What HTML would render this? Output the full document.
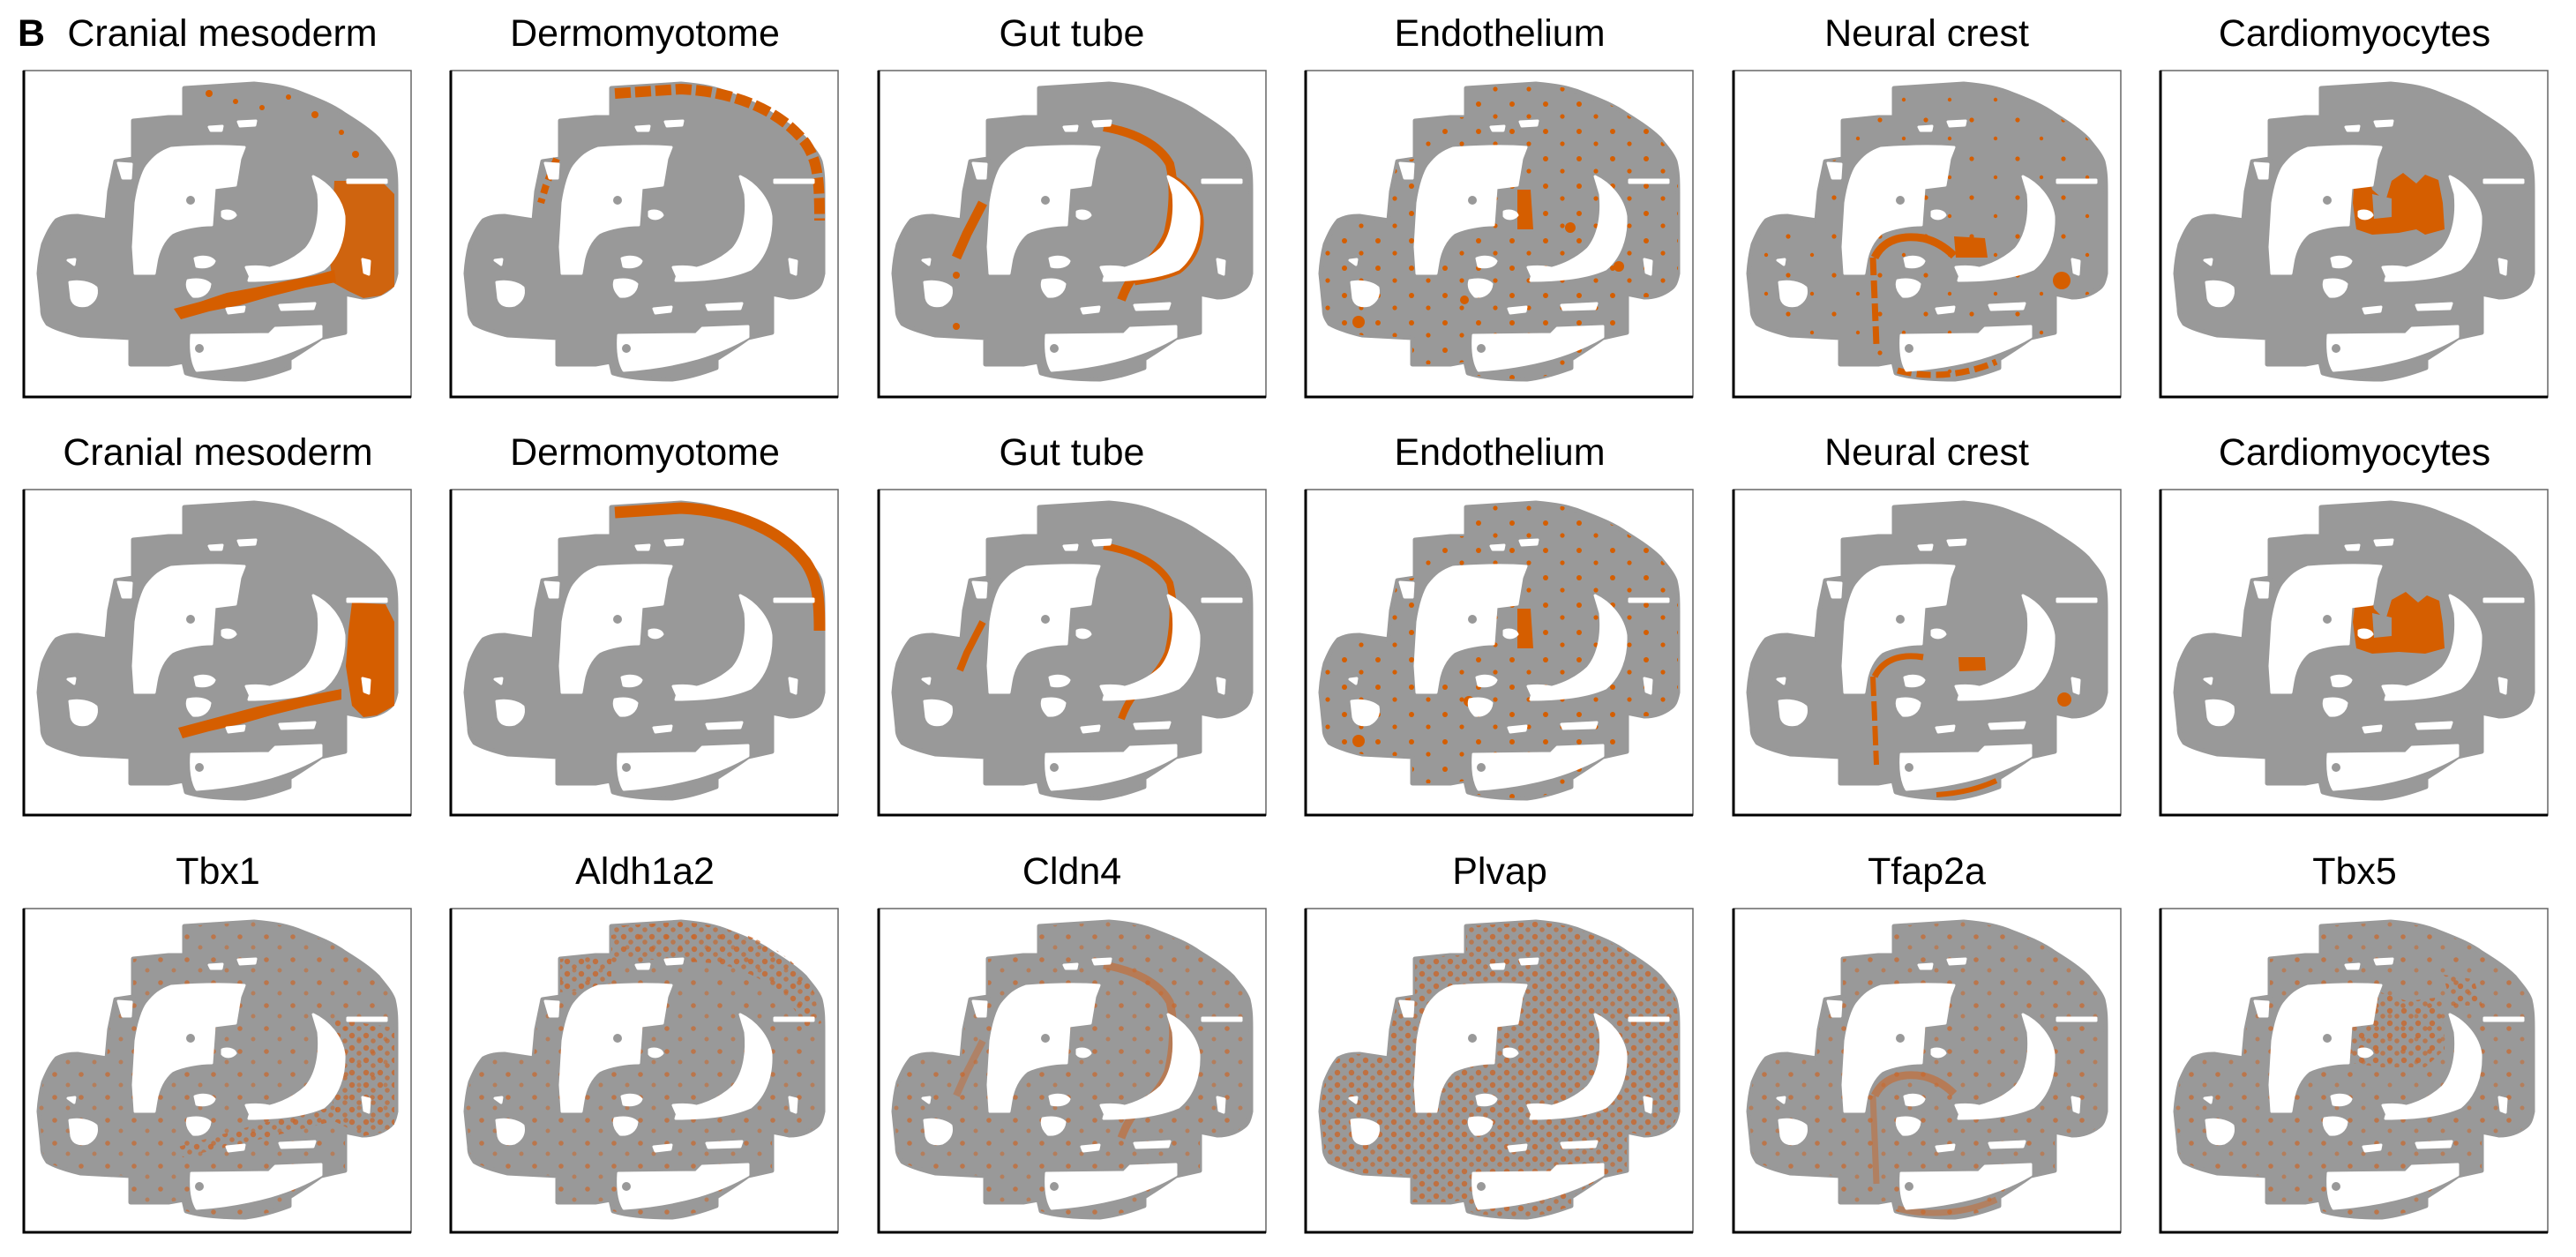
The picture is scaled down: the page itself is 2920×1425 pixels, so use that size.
<!DOCTYPE html>
<html><head><meta charset="utf-8"><style>
html,body{margin:0;padding:0;background:#fff;}
svg{display:block;}
text{font-family:"Liberation Sans",Arial,sans-serif;}
</style></head><body>
<svg width="2920" height="1425" viewBox="0 0 2920 1425" xmlns="http://www.w3.org/2000/svg" xmlns:xlink="http://www.w3.org/1999/xlink">
<defs>
<pattern id="sp1" width="38" height="31" patternUnits="userSpaceOnUse">
<circle cx="6" cy="7" r="3" fill="#d55e00"/><circle cx="25" cy="21" r="2.6" fill="#d55e00"/>
</pattern>
<pattern id="sp2" width="52" height="44" patternUnits="userSpaceOnUse">
<circle cx="10" cy="12" r="2.6" fill="#d55e00"/><circle cx="37" cy="33" r="2.2" fill="#d55e00"/>
</pattern>
<pattern id="sp3" width="16" height="14" patternUnits="userSpaceOnUse">
<circle cx="4" cy="4" r="3.2" fill="#c9672a" opacity="0.8"/><circle cx="12" cy="10" r="2.8" fill="#c9672a" opacity="0.65"/>
</pattern>
<pattern id="sp4" width="30" height="26" patternUnits="userSpaceOnUse">
<circle cx="5" cy="6" r="2.8" fill="#c9672a" opacity="0.7"/><circle cx="20" cy="18" r="2.5" fill="#c9672a" opacity="0.55"/>
</pattern>
<path id="bodyp" d="M182,20 L261,15 C285,17 300,20 317,27 C335,34 350,40 364,50 C380,60 392,68 401,77 C410,88 416,95 419,103 C422,115 422,125 422,140 L422,230 C420,240 418,244 414,247 C405,254 395,257 384,257 L364,253 L364,297 L337,303 C325,312 312,320 301,327 L301,337 C285,343 268,348 251,350 C225,350 200,348 184,343 L181,330 L164,333 L121,333 L121,303 L64,300 C48,296 35,292 27,287 C22,280 21,276 21,270 L17,230 C18,215 20,205 22,197 C27,185 31,177 37,170 C45,166 52,165 61,165 L94,170 L97,137 L104,103 L124,100 L124,57 L164,53 L182,53 Z"/>
<g id="body"><use xlink:href="#bodyp" fill="#999" stroke="#999" stroke-width="5" stroke-linejoin="round"/></g>
<g id="holes" fill="#fff" stroke="#fff" stroke-linejoin="round" stroke-width="3">
<path d="M167,88 C195,86 225,85 250,87 L245,100 L240,130 L216,133 L213,175 C200,175 180,178 168,184 C158,192 152,205 150,218 L148,230 L126,230 L124,200 L127,150 C130,130 135,115 140,108 C148,98 155,92 167,88 Z"/>
<path d="M328,120 C345,128 360,145 363,165 C364,190 356,212 340,225 C320,234 290,238 255,238 L258,228 C285,225 305,216 320,202 C334,185 336,160 334,140 Z"/>
<path d="M190,300 L278,299 L285,292 L337,290 L337,302 C320,312 300,320 280,326 C255,333 225,338 196,340 C190,330 189,315 190,300 Z"/>
<path d="M52,240 C62,238 75,240 82,246 C84,255 80,262 72,266 C63,268 56,266 54,258 Z"/>
<path d="M107,105 L122,106 L121,122 L112,122 Z"/>
<path d="M194,213 C202,210 212,211 216,216 C214,222 204,224 196,222 Z"/>
<path d="M186,238 C196,236 206,237 211,242 C210,252 202,257 192,256 C186,250 184,244 186,238 Z"/>
<path d="M252,223 C262,222 276,222 284,226 C280,232 268,234 256,232 Z"/>
<path d="M230,270 L250,268 L249,273 L232,275 Z"/>
<path d="M290,266 L330,264 L328,270 L292,271 Z"/>
<path d="M225,160 C230,158 238,159 240,164 C236,169 228,169 225,165 Z"/>
<path d="M243,58 L263,57 L262,62 L245,63 Z"/>
<path d="M210,64 L225,63 L224,68 L212,68 Z"/>
<path d="M367,124 L411,124 L411,127 L367,127 Z"/>
<path d="M384,214 L392,216 L391,231 L386,229 Z"/>
<path d="M50,215 L58,214 L57,220 Z"/>
</g>
<g id="dots" fill="#999"><circle cx="189" cy="147" r="5"/><circle cx="199" cy="315" r="5"/></g>

<!-- row1 overlays -->
<g id="r1c1" fill="#d55e00">
<path d="M352,125 L405,125 L420,140 L420,245 L405,255 L385,258 L368,250 L350,240 L345,200 L350,160 Z" opacity="0.9"/>
<path d="M170,270 L200,262 L230,252 L262,246 L300,238 L330,232 L352,226 L354,240 L320,246 L280,256 L245,266 L210,273 L178,282 Z"/>
<circle cx="210" cy="26" r="4"/><circle cx="240" cy="35" r="3"/><circle cx="300" cy="30" r="3"/><circle cx="330" cy="50" r="4"/><circle cx="360" cy="70" r="3"/><circle cx="183" cy="90" r="4"/><circle cx="270" cy="42" r="3"/><circle cx="376" cy="95" r="4"/>
</g>
<g id="r1c2" fill="none" stroke="#d55e00">
<path d="M186,26 L261,21 C325,24 375,47 402,82 C416,102 418,125 418,170" stroke-width="12" stroke-dasharray="18 5"/>
<path d="M120,100 L108,130 L102,150" stroke-width="8" stroke-dasharray="10 6"/>
</g>
<g id="r1c3" fill="none" stroke="#d55e00">
<path d="M255,64 C290,70 318,84 330,106 C336,130 334,160 328,185 C320,205 305,220 290,232 C282,242 278,252 275,260" stroke-width="10"/>
<path d="M330,120 C350,130 364,150 365,170 C366,195 356,215 340,227 C322,235 300,238 290,240" stroke-width="7"/>
<path d="M118,150 L100,185 L88,212" stroke-width="11"/>
<circle cx="88" cy="232" r="4" fill="#d55e00" stroke="none"/><circle cx="88" cy="290" r="4" fill="#d55e00" stroke="none"/>
</g>
<g id="r1c4">
<use xlink:href="#bodyp" fill="url(#sp1)"/>
<path d="M240,135 L255,135 L258,180 L240,180 Z" fill="#d55e00"/>
<circle cx="300" cy="178" r="6" fill="#d55e00"/><circle cx="355" cy="222" r="6" fill="#d55e00"/><circle cx="60" cy="285" r="7" fill="#d55e00"/><circle cx="180" cy="260" r="5" fill="#d55e00"/>
</g>
<g id="r1c5" fill="#d55e00">
<use xlink:href="#bodyp" fill="url(#sp2)"/>
<path d="M160,212 C170,192 190,186 215,190 C232,194 244,204 250,210" fill="none" stroke="#d55e00" stroke-width="9"/>
<path d="M250,188 L285,190 L288,212 L252,212 Z"/>
<path d="M158,212 L160,260 L162,312" fill="none" stroke="#d55e00" stroke-width="7" stroke-dasharray="20 6"/>
<path d="M186,340 C220,349 262,346 298,330" fill="none" stroke="#d55e00" stroke-width="7" stroke-dasharray="16 6"/>
<circle cx="372" cy="238" r="10"/>
</g>
<g id="r1c6" fill="#d55e00">
<path d="M220,120 L235,116 L240,135 L255,148 L262,125 L275,116 L290,128 L300,118 L315,124 L320,150 L322,180 L300,186 L290,180 L270,184 L240,186 L222,180 L218,150 Z"/>
<path d="M240,140 L262,145 L262,166 L242,168 Z" fill="#999"/>
</g>
<!-- row2 overlays -->
<g id="r2c1" fill="#d55e00">
<path d="M372,128 L410,130 L420,150 L420,245 L400,256 L385,258 L372,245 L365,200 L368,160 Z"/>
<path d="M175,270 L205,262 L235,254 L265,246 L300,238 L330,232 L360,226 L360,238 L320,246 L280,256 L245,266 L210,274 L180,282 Z"/>
</g>
<g id="r2c2" fill="none" stroke="#d55e00">
<path d="M186,26 L261,21 C325,24 375,47 402,82 C416,102 418,125 418,160" stroke-width="13"/>
</g>
<g id="r2c3" fill="none" stroke="#d55e00">
<path d="M255,64 C290,70 318,84 330,106 C336,130 334,160 328,185 C320,205 305,220 290,232 C282,242 278,252 275,260" stroke-width="8"/>
<path d="M118,150 L100,185 L92,205" stroke-width="8"/>
</g>
<g id="r2c4">
<use xlink:href="#bodyp" fill="url(#sp1)"/>
<path d="M240,135 L255,135 L258,180 L240,180 Z" fill="#d55e00"/>
<circle cx="60" cy="285" r="7" fill="#d55e00"/><circle cx="185" cy="240" r="6" fill="#d55e00"/>
</g>
<g id="r2c5" fill="#d55e00">
<path d="M160,212 C170,192 190,186 215,190" fill="none" stroke="#d55e00" stroke-width="7"/>
<path d="M255,190 L285,190 L286,205 L256,206 Z"/>
<path d="M158,212 L160,260 L162,312" fill="none" stroke="#d55e00" stroke-width="6" stroke-dasharray="22 6"/>
<path d="M230,346 C260,344 280,338 298,330" fill="none" stroke="#d55e00" stroke-width="6"/>
<circle cx="375" cy="238" r="8"/>
</g>
<g id="r2c6" fill="#d55e00">
<path d="M222,118 L238,116 L242,135 L255,148 L262,125 L278,116 L292,128 L302,120 L316,126 L320,152 L322,180 L300,186 L270,184 L240,186 L222,180 L218,150 Z"/>
<path d="M240,140 L262,145 L262,166 L242,168 Z" fill="#999"/>
</g>
<!-- row3 overlays -->
<g id="r3c1">
<use xlink:href="#bodyp" fill="url(#sp4)"/>
<path d="M350,125 L420,135 L420,250 L385,258 L350,240 Z" fill="url(#sp3)"/>
<path d="M175,270 L260,246 L355,224 L355,240 L250,266 L180,282 Z" fill="url(#sp3)"/>
</g>
<g id="r3c2">
<use xlink:href="#bodyp" fill="url(#sp4)"/>
<path d="M182,20 L261,15 C330,20 385,45 410,90 L420,130 L400,135 C388,100 350,72 300,62 L182,55 Z" fill="url(#sp3)"/>
<path d="M124,57 L182,55 L182,88 L124,95 Z" fill="url(#sp3)"/>
</g>
<g id="r3c3">
<use xlink:href="#bodyp" fill="url(#sp4)"/>
<path d="M255,64 C290,70 318,84 330,106 C336,130 334,160 328,185 C320,205 305,220 290,232 C282,242 278,252 275,260" fill="none" stroke="#c9672a" stroke-width="9" opacity="0.6"/>
<path d="M118,150 L100,185 L88,212" fill="none" stroke="#c9672a" stroke-width="8" opacity="0.45"/>
</g>
<g id="r3c4">
<use xlink:href="#bodyp" fill="url(#sp3)"/>
</g>
<g id="r3c5">
<use xlink:href="#bodyp" fill="url(#sp4)"/>
<path d="M160,212 C170,192 190,186 215,190 C232,194 244,204 250,210" fill="none" stroke="#c9672a" stroke-width="9" opacity="0.6"/>
<path d="M158,212 L160,260 L162,312" fill="none" stroke="#c9672a" stroke-width="7" opacity="0.5"/>
<path d="M186,340 C220,349 262,346 298,330" fill="none" stroke="#c9672a" stroke-width="7" opacity="0.5"/>
</g>
<g id="r3c6">
<use xlink:href="#bodyp" fill="url(#sp4)"/>
<path d="M215,100 L250,95 L280,105 L320,100 L322,160 L300,180 L250,180 L215,175 Z" fill="url(#sp3)"/>
<path d="M320,75 L355,80 L365,110 L330,110 Z" fill="url(#sp3)"/>
</g>
</defs>

<g font-size="43" text-anchor="middle" fill="#000">
<text x="20" y="52" text-anchor="start" font-weight="bold">B</text>
<text x="252" y="52">Cranial mesoderm</text>
<text x="731" y="52">Dermomyotome</text>
<text x="1215" y="52">Gut tube</text>
<text x="1700" y="52">Endothelium</text>
<text x="2184" y="52">Neural crest</text>
<text x="2669" y="52">Cardiomyocytes</text>
<text x="247" y="527">Cranial mesoderm</text>
<text x="731" y="527">Dermomyotome</text>
<text x="1215" y="527">Gut tube</text>
<text x="1700" y="527">Endothelium</text>
<text x="2184" y="527">Neural crest</text>
<text x="2669" y="527">Cardiomyocytes</text>
<text x="247" y="1002">Tbx1</text>
<text x="731" y="1002">Aldh1a2</text>
<text x="1215" y="1002">Cldn4</text>
<text x="1700" y="1002">Plvap</text>
<text x="2184" y="1002">Tfap2a</text>
<text x="2669" y="1002">Tbx5</text>
</g>

<g transform="translate(27,80)"><use xlink:href="#body"/><use xlink:href="#r1c1"/><use xlink:href="#holes"/><use xlink:href="#dots"/></g>
<g transform="translate(511,80)"><use xlink:href="#body"/><use xlink:href="#r1c2"/><use xlink:href="#holes"/><use xlink:href="#dots"/></g>
<g transform="translate(996,80)"><use xlink:href="#body"/><use xlink:href="#r1c3"/><use xlink:href="#holes"/><use xlink:href="#dots"/></g>
<g transform="translate(1480,80)"><use xlink:href="#body"/><use xlink:href="#r1c4"/><use xlink:href="#holes"/><use xlink:href="#dots"/></g>
<g transform="translate(1965,80)"><use xlink:href="#body"/><use xlink:href="#r1c5"/><use xlink:href="#holes"/><use xlink:href="#dots"/></g>
<g transform="translate(2449,80)"><use xlink:href="#body"/><use xlink:href="#r1c6"/><use xlink:href="#holes"/><use xlink:href="#dots"/></g>
<g transform="translate(27,555)"><use xlink:href="#body"/><use xlink:href="#r2c1"/><use xlink:href="#holes"/><use xlink:href="#dots"/></g>
<g transform="translate(511,555)"><use xlink:href="#body"/><use xlink:href="#r2c2"/><use xlink:href="#holes"/><use xlink:href="#dots"/></g>
<g transform="translate(996,555)"><use xlink:href="#body"/><use xlink:href="#r2c3"/><use xlink:href="#holes"/><use xlink:href="#dots"/></g>
<g transform="translate(1480,555)"><use xlink:href="#body"/><use xlink:href="#r2c4"/><use xlink:href="#holes"/><use xlink:href="#dots"/></g>
<g transform="translate(1965,555)"><use xlink:href="#body"/><use xlink:href="#r2c5"/><use xlink:href="#holes"/><use xlink:href="#dots"/></g>
<g transform="translate(2449,555)"><use xlink:href="#body"/><use xlink:href="#r2c6"/><use xlink:href="#holes"/><use xlink:href="#dots"/></g>
<g transform="translate(27,1030)"><use xlink:href="#body"/><use xlink:href="#r3c1"/><use xlink:href="#holes"/><use xlink:href="#dots"/></g>
<g transform="translate(511,1030)"><use xlink:href="#body"/><use xlink:href="#r3c2"/><use xlink:href="#holes"/><use xlink:href="#dots"/></g>
<g transform="translate(996,1030)"><use xlink:href="#body"/><use xlink:href="#r3c3"/><use xlink:href="#holes"/><use xlink:href="#dots"/></g>
<g transform="translate(1480,1030)"><use xlink:href="#body"/><use xlink:href="#r3c4"/><use xlink:href="#holes"/><use xlink:href="#dots"/></g>
<g transform="translate(1965,1030)"><use xlink:href="#body"/><use xlink:href="#r3c5"/><use xlink:href="#holes"/><use xlink:href="#dots"/></g>
<g transform="translate(2449,1030)"><use xlink:href="#body"/><use xlink:href="#r3c6"/><use xlink:href="#holes"/><use xlink:href="#dots"/></g>

<g fill="none">
<g stroke="#666" stroke-width="1.5">
<rect x="27" y="80" width="439" height="370"/><rect x="511" y="80" width="439" height="370"/><rect x="996" y="80" width="439" height="370"/><rect x="1480" y="80" width="439" height="370"/><rect x="1965" y="80" width="439" height="370"/><rect x="2449" y="80" width="439" height="370"/>
<rect x="27" y="555" width="439" height="369"/><rect x="511" y="555" width="439" height="369"/><rect x="996" y="555" width="439" height="369"/><rect x="1480" y="555" width="439" height="369"/><rect x="1965" y="555" width="439" height="369"/><rect x="2449" y="555" width="439" height="369"/>
<rect x="27" y="1030" width="439" height="367"/><rect x="511" y="1030" width="439" height="367"/><rect x="996" y="1030" width="439" height="367"/><rect x="1480" y="1030" width="439" height="367"/><rect x="1965" y="1030" width="439" height="367"/><rect x="2449" y="1030" width="439" height="367"/>
</g>
<g stroke="#000" stroke-width="3">
<path d="M27,80 V450 H466"/><path d="M511,80 V450 H950"/><path d="M996,80 V450 H1435"/><path d="M1480,80 V450 H1919"/><path d="M1965,80 V450 H2404"/><path d="M2449,80 V450 H2888"/>
<path d="M27,555 V924 H466"/><path d="M511,555 V924 H950"/><path d="M996,555 V924 H1435"/><path d="M1480,555 V924 H1919"/><path d="M1965,555 V924 H2404"/><path d="M2449,555 V924 H2888"/>
<path d="M27,1030 V1397 H466"/><path d="M511,1030 V1397 H950"/><path d="M996,1030 V1397 H1435"/><path d="M1480,1030 V1397 H1919"/><path d="M1965,1030 V1397 H2404"/><path d="M2449,1030 V1397 H2888"/>
</g>
</g>
</svg>
</body></html>
